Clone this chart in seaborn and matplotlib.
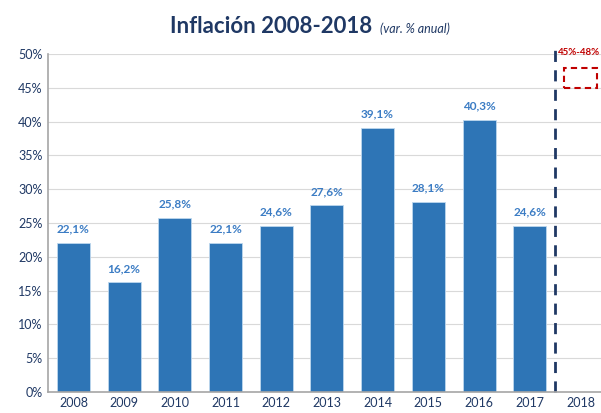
import matplotlib
matplotlib.use("Agg")
import matplotlib.pyplot as plt
from matplotlib.patches import Rectangle
from matplotlib.ticker import FuncFormatter
import seaborn as sns
import pandas as pd

# data
years = ["2008", "2009", "2010", "2011", "2012", "2013", "2014", "2015", "2016", "2017"]
inflation = [22.1, 16.2, 25.8, 22.1, 24.6, 27.6, 39.1, 28.1, 40.3, 24.6]
forecast_year = "2018"
forecast_low = 45
forecast_high = 48

all_years = years + [forecast_year]

bar_color = "#2E75B6"
label_color = "#3B7CC4"
navy = "#1F3864"
red = "#C00000"

sns.set_theme(style="white")
plt.rcParams["font.family"] = ["Lato", "DejaVu Sans"]

df = pd.DataFrame({"year": years, "value": inflation})

fig = plt.figure(figsize=(6.01, 4.13), dpi=100)
ax = fig.add_axes([0.08, 0.051, 0.928, 0.818])

sns.barplot(data=df, x="year", y="value", order=all_years, color=bar_color,
            saturation=1, width=0.65, edgecolor="#BDD7EE", linewidth=0.6, ax=ax)

ax.set_xlim(-0.5, len(all_years) - 0.5)
ax.set_ylim(0, 50)
ax.set_yticks(range(0, 51, 5))
ax.yaxis.set_major_formatter(FuncFormatter(lambda v, p: f"{int(v)}%"))
ax.yaxis.grid(True, color="#D9D9D9", linewidth=0.8)
ax.set_axisbelow(True)
ax.set_xlabel("")
ax.set_ylabel("")
ax.tick_params(axis="both", colors=navy, labelsize=9, length=0, pad=4)

for side in ["top", "right"]:
    ax.spines[side].set_visible(False)
for side in ["left", "bottom"]:
    ax.spines[side].set_color("#A6A6A6")
    ax.spines[side].set_linewidth(1.2)

# value labels
for i, v in enumerate(inflation):
    ax.annotate(f"{v:.1f}%".replace(".", ","), (i, v), xytext=(0, 6),
                textcoords="offset points", ha="center", va="bottom",
                fontsize=8.5, fontweight="bold", color=label_color)

# separator between actual and forecast
sep = len(years) - 0.5
ax.axvline(sep, ymin=0, ymax=1.02, color=navy, linestyle=(0, (4, 3)),
           linewidth=2, clip_on=False)

# forecast range box
fx = all_years.index(forecast_year)
ax.add_patch(Rectangle((fx - 0.33, forecast_low), 0.66, forecast_high - forecast_low,
                       fill=False, edgecolor=red, linestyle=(0, (3, 2)), linewidth=1.5))
ax.annotate(f"{forecast_low}%-{forecast_high}%", (sep, 50.2), xytext=(2, 0),
            textcoords="offset points", ha="left", va="center",
            fontsize=7.0, fontweight="bold", color=red, annotation_clip=False)

# title
fig.text(0.283, 0.92, "Inflación 2008-2018", fontsize=16, fontweight="bold",
         color=navy, ha="left", va="baseline")
fig.text(0.632, 0.92, "(var. % anual)", fontsize=9, fontstyle="italic",
         color=navy, ha="left", va="baseline")

fig.savefig("out.png", dpi=100)
